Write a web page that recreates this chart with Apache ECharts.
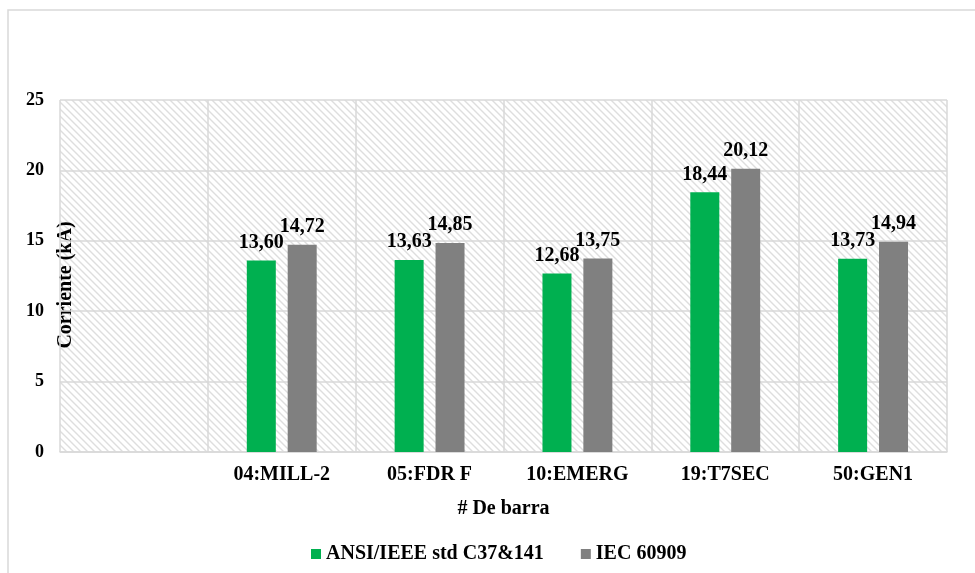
<!DOCTYPE html>
<html>
<head>
<meta charset="utf-8">
<script src="https://cdn.jsdelivr.net/npm/echarts@6/dist/echarts.min.js"></script>
<style>
  html, body { margin: 0; padding: 0; background: #fff; }
  #chart { width: 975px; height: 573px; }
</style>
</head>
<body>
<div id="chart"></div>
<script>
// Bus names (first slot is intentionally blank)
const categories = ['', '04:MILL-2', '05:FDR F', '10:EMERG', '19:T7SEC', '50:GEN1'];
// Short-circuit current per bus, kA
const ansiValues = [null, 13.60, 13.63, 12.68, 18.44, 13.73];
const iecValues  = [null, 14.72, 14.85, 13.75, 20.12, 14.94];
const seriesNames = ['ANSI/IEEE std C37&141', 'IEC 60909'];

const FONT = '"Liberation Serif", "Times New Roman", serif';

// Diagonal hatch tile for the plot background
function hatchTile() {
  const s = 7;
  const c = document.createElement('canvas');
  c.width = s; c.height = s;
  const g = c.getContext('2d');
  g.fillStyle = '#ffffff';
  g.fillRect(0, 0, s, s);
  g.strokeStyle = '#dedede';
  g.lineWidth = 1.4;
  g.beginPath();
  g.moveTo(-1, -1); g.lineTo(s + 1, s + 1);
  g.moveTo(-1, s - 1); g.lineTo(1, s + 1);
  g.moveTo(s - 1, -1); g.lineTo(s + 1, 1);
  g.stroke();
  return c;
}

const fmt = p => p.value == null ? '' : p.value.toFixed(2).replace('.', ',');

const chart = echarts.init(document.getElementById('chart'));
chart.setOption({
  animation: false,
  backgroundColor: '#ffffff',
  graphic: [{
    type: 'rect',
    shape: { x: 8, y: 10, width: 990, height: 600 },
    style: { fill: 'none', stroke: '#d9d9d9', lineWidth: 1.5 },
    silent: true
  }, {
    // Rotated y-axis title sitting against the plot's left edge
    type: 'text',
    x: 66, y: 285,
    rotation: Math.PI / 2,
    style: {
      text: 'Corriente (kA)',
      fontFamily: FONT, fontWeight: 'bold', fontSize: 20, fill: '#000',
      align: 'center', verticalAlign: 'middle'
    },
    silent: true
  }],
  grid: {
    left: 60, right: 28, top: 100, bottom: 121,
    show: true,
    borderWidth: 0,
    backgroundColor: { image: hatchTile(), repeat: 'repeat' }
  },
  legend: {
    data: seriesNames,
    left: 306,
    top: 539,
    itemWidth: 10,
    itemHeight: 10,
    itemGap: 37,
    icon: 'rect',
    textStyle: { fontFamily: FONT, fontWeight: 'bold', fontSize: 20, color: '#000' }
  },
  xAxis: {
    type: 'category',
    data: categories,
    boundaryGap: true,
    name: '# De barra',
    nameLocation: 'middle',
    nameGap: 47,
    nameTextStyle: { fontFamily: FONT, fontWeight: 'bold', fontSize: 20, color: '#000' },
    axisLine: { show: true, lineStyle: { color: '#d9d9d9', width: 1.5 } },
    axisTick: { show: false },
    axisLabel: { margin: 13, fontFamily: FONT, fontWeight: 'bold', fontSize: 20, color: '#000' },
    splitLine: { show: true, lineStyle: { color: '#d9d9d9', width: 1.5 } }
  },
  yAxis: {
    type: 'value',
    min: 0, max: 25, interval: 5,
    axisLine: { show: false },
    axisTick: { show: false },
    axisLabel: { margin: 16, fontFamily: FONT, fontWeight: 'bold', fontSize: 18, color: '#000' },
    splitLine: { show: true, lineStyle: { color: '#d9d9d9', width: 1.5 } }
  },
  series: [
    {
      name: seriesNames[0],
      type: 'bar',
      data: ansiValues,
      barWidth: 29,
      barGap: '41%',
      itemStyle: { color: '#00b050' },
      label: { show: true, position: 'top', distance: 8, formatter: fmt,
        fontFamily: FONT, fontWeight: 'bold', fontSize: 20, color: '#000' }
    },
    {
      name: seriesNames[1],
      type: 'bar',
      data: iecValues,
      barWidth: 29,
      barGap: '41%',
      itemStyle: { color: '#808080' },
      label: { show: true, position: 'top', distance: 8, formatter: fmt,
        fontFamily: FONT, fontWeight: 'bold', fontSize: 20, color: '#000' }
    }
  ]
});
</script>
</body>
</html>
